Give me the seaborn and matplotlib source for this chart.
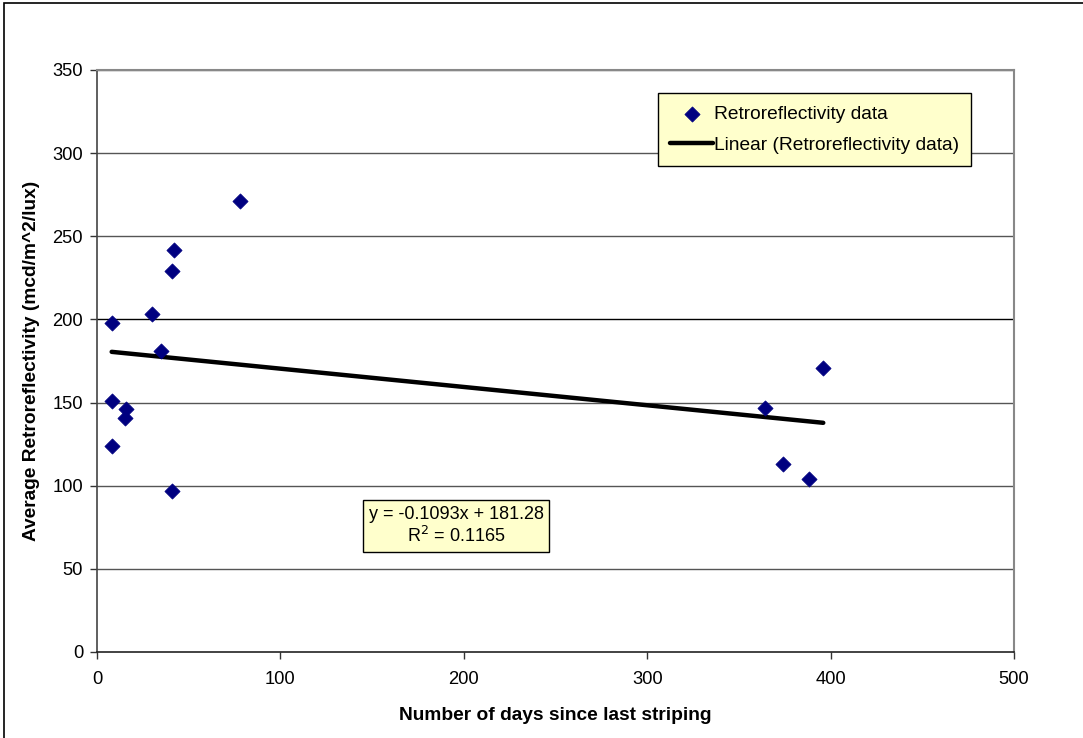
import matplotlib
matplotlib.use("Agg")
import matplotlib.pyplot as plt
import seaborn as sns
import numpy as np
import pandas as pd

days = [8, 8, 8, 15, 16, 30, 35, 41, 42, 41, 78, 364, 374, 388, 396]
retro = [198, 151, 124, 141, 146, 203, 181, 229, 242, 97, 271, 147, 113, 104, 171]
x_ticks = [0, 100, 200, 300, 400, 500]
y_ticks = [0, 50, 100, 150, 200, 250, 300, 350]
equation_text = "y = -0.1093x + 181.28\nR$^2$ = 0.1165"

df = pd.DataFrame({"days": days, "retro": retro})

sns.set_theme(style="white")
plt.rcParams['font.family'] = ['Liberation Sans', 'DejaVu Sans']
plt.rcParams['text.color'] = 'black'
plt.rcParams['axes.labelcolor'] = 'black'
plt.rcParams['xtick.color'] = 'black'
plt.rcParams['ytick.color'] = 'black'

FS = 13.8
FT = 13.2
FE = 13.0

fig = plt.figure(figsize=(10.83, 7.38), dpi=100)
ax = fig.add_axes([97/1083, 1-652/738, 917/1083, 582/738])

# figure border (left/top visible)
fig.patches.append(plt.Rectangle((4/1083, -0.05), 1.1, 1-3/738+0.05, transform=fig.transFigure,
                                 fill=False, edgecolor="black", linewidth=1.2))

sns.scatterplot(data=df, x="days", y="retro", marker="D", color="#000080", s=60,
                edgecolor="#000080", linewidth=0.5, ax=ax, label="Retroreflectivity data", zorder=3)
sns.regplot(data=df, x="days", y="retro", scatter=False, ci=None, ax=ax, truncate=True,
            line_kws={"color": "black", "lw": 3.2, "zorder": 2},
            label="Linear (Retroreflectivity data)")

ax.set_xlim(0, 500)
ax.set_ylim(0, 350)
ax.set_xticks(x_ticks)
ax.set_yticks(y_ticks)
for yv in y_ticks[1:]:
    ax.axhline(yv, color="#555555" if yv != 200 else "black", lw=1.0, zorder=1)

for side in ["top", "right"]:
    ax.spines[side].set_color("#888888")
    ax.spines[side].set_linewidth(1.5)
ax.spines["left"].set_color("#444444")
ax.spines["bottom"].set_color("#222222")
ax.spines["left"].set_linewidth(1.2)
ax.spines["bottom"].set_linewidth(1.2)

ax.tick_params(axis="both", direction="out", length=5, width=1, color="#333333",
               labelsize=FT, left=True, bottom=True, labelcolor="black")
ax.tick_params(axis="x", pad=9)
ax.tick_params(axis="y", pad=5)

ax.set_xlabel("Number of days since last striping", fontsize=FS, fontweight="bold", labelpad=13)
ax.set_ylabel("Average Retroreflectivity (mcd/m^2/lux)", fontsize=FS, fontweight="bold", labelpad=9)

leg = ax.legend(loc="upper left", bbox_to_anchor=((658-97)/917, (652-93)/582),
                frameon=True, fancybox=False, facecolor="#FFFFCC", edgecolor="black",
                fontsize=FS, handlelength=2.2, handletextpad=0.05, borderpad=0.65,
                labelspacing=0.7, framealpha=1, borderaxespad=0)
leg.get_frame().set_linewidth(1.0)

ax.text((456-97)/917, (652-526)/582, equation_text, transform=ax.transAxes,
        ha="center", va="center", fontsize=FE, linespacing=1.2,
        bbox=dict(boxstyle="square,pad=0.3", facecolor="#FFFFCC", edgecolor="black", lw=1.0),
        zorder=5)

fig.savefig("out.png", dpi=100)
